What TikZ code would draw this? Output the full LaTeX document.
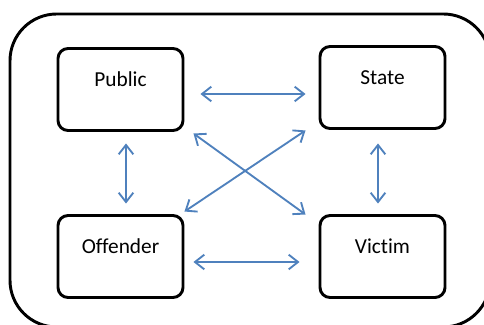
\documentclass[tikz,border=0pt]{standalone}
\usepackage{fontspec}
\setmainfont{Carlito}[Ligatures={NoCommon,NoContextual}]
\usepackage{xcolor}
\usepackage{tikz}
\usetikzlibrary{arrows.meta,positioning}
\definecolor{arrowcol}{HTML}{4F81BD}

\begin{document}
\begin{tikzpicture}[x=0.75pt,y=-0.75pt,
  party/.style={draw=black,line width=2.2pt,rounded corners=7.5pt,fill=white,
                inner sep=0pt,minimum width=93.75pt,
                text height=28.5pt,text depth=33pt,
                font=\fontsize{16}{19}\selectfont},
  link/.style={{Straight Barb[length=7pt,width=11pt]}-{Straight Barb[length=7pt,width=11pt]},
               draw=arrowcol,line width=1.4pt},
]
\useasboundingbox (0,0) rectangle (484,324);

% outer frame
\draw[line width=2.2pt,rounded corners=35pt] (10,14) rectangle (490,327);

\node[party] (pub) at (120.5,89.5)  {Public};
\node[party] (st)  at (382.5,87.5)  {State};
\node[party] (off) at (120.5,256.5) {Offender};
\node[party] (vic) at (382.5,256.5) {Victim};

% two-way relations
\draw[link] ([shift={(16,4.5)}]pub.east)   -- ([shift={(-13,6.5)}]st.west);
\draw[link] ([shift={(9,5.5)}]off.east)    -- ([shift={(-19,5.5)}]vic.west);
\draw[link] ([shift={(5.5,11.5)}]pub.south) -- ([shift={(5.5,-10.5)}]off.north);
\draw[link] ([shift={(-4.5,13.5)}]st.south) -- ([shift={(-4.5,-10.5)}]vic.north);
\draw[link] ([shift={(9,1.5)}]pub.south east) -- ([shift={(-13,0.5)}]vic.north west);
\draw[link] ([shift={(0,-2.5)}]off.north east) -- ([shift={(-13,0.5)}]st.south west);
\end{tikzpicture}
\end{document}
